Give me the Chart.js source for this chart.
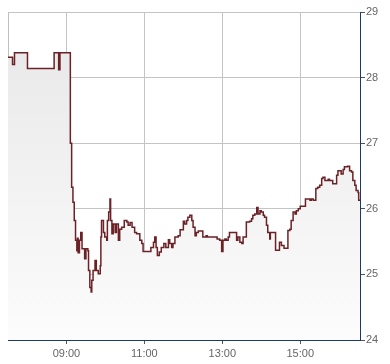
<!DOCTYPE html>
<html>
<head>
<meta charset="utf-8">
<script src="https://cdn.jsdelivr.net/npm/chart.js@4/dist/chart.umd.min.js"></script>
<style>
  html, body { margin: 0; padding: 0; background: #fff; }
  #wrap { width: 390px; height: 364px; }
</style>
</head>
<body>
<div id="wrap"><canvas id="priceChart" width="390" height="364"></canvas></div>
<script>
// intraday trade times and prices
const times = [
  "07:30", "07:37", "07:40", "08:00", "08:41", "08:48", "08:50", "09:06", "09:08", "09:10",
  "09:12", "09:14", "09:16", "09:17", "09:18", "09:20", "09:22", "09:24", "09:28", "09:30",
  "09:33", "09:34", "09:36", "09:38", "09:39", "09:41", "09:44", "09:46", "09:49", "09:52",
  "09:53", "09:54", "09:57", "09:59", "10:02", "10:03", "10:05", "10:07", "10:08", "10:10",
  "10:12", "10:15", "10:17", "10:20", "10:22", "10:25", "10:29", "10:33", "10:35", "10:38",
  "10:41", "10:45", "10:48", "10:53", "10:56", "10:58", "11:10", "11:14", "11:16", "11:18",
  "11:20", "11:23", "11:26", "11:30", "11:33", "11:37", "11:39", "11:42", "11:44", "11:47",
  "11:52", "11:55", "12:00", "12:02", "12:05", "12:07", "12:10", "12:13", "12:15", "12:18",
  "12:20", "12:23", "12:30", "12:35", "12:37", "12:52", "12:56", "12:59", "13:01", "13:04",
  "13:06", "13:09", "13:11", "13:22", "13:24", "13:27", "13:30", "13:32", "13:37", "13:42",
  "13:45", "13:47", "13:50", "13:53", "13:55", "13:58", "14:00", "14:03", "14:05", "14:08",
  "14:10", "14:13", "14:14", "14:22", "14:28", "14:31", "14:35", "14:41", "14:44", "14:46",
  "14:49", "14:52", "14:54", "14:57", "15:00", "15:08", "15:15", "15:17", "15:20", "15:24",
  "15:27", "15:30", "15:33", "15:35", "15:38", "15:43", "15:45", "15:50", "15:56", "15:58",
  "16:03", "16:06", "16:08", "16:13", "16:16", "16:19", "16:21", "16:24", "16:26", "16:29",
  "16:30", "16:32"
];
const prices = [
  28.31, 28.20, 28.38, 28.14, 28.38, 28.12, 28.38, 27.00, 26.33, 26.10,
  25.82, 25.52, 25.36, 25.55, 25.33, 25.52, 25.64, 25.39, 25.24, 25.39,
  25.36, 25.06, 24.80, 24.73, 24.91, 25.06, 25.21, 25.06, 25.01, 25.13,
  25.57, 25.82, 25.64, 25.57, 25.52, 25.82, 25.95, 26.15, 25.82, 25.62,
  25.77, 25.64, 25.77, 25.52, 25.69, 25.72, 25.82, 25.80, 25.75, 25.79,
  25.72, 25.64, 25.62, 25.52, 25.47, 25.35, 25.41, 25.49, 25.57, 25.41,
  25.29, 25.34, 25.41, 25.47, 25.41, 25.53, 25.47, 25.41, 25.47, 25.57,
  25.59, 25.68, 25.81, 25.77, 25.82, 25.87, 25.90, 25.82, 25.72, 25.59,
  25.64, 25.66, 25.57, 25.59, 25.57, 25.54, 25.52, 25.35, 25.52, 25.54,
  25.52, 25.57, 25.64, 25.52, 25.57, 25.49, 25.47, 25.57, 25.80, 25.81,
  25.85, 25.90, 25.92, 26.02, 25.92, 25.97, 25.95, 25.90, 25.87, 25.75,
  25.64, 25.54, 25.64, 25.37, 25.49, 25.44, 25.40, 25.67, 25.69, 25.82,
  25.95, 25.92, 25.97, 26.00, 26.04, 26.15, 26.13, 26.15, 26.13, 26.31,
  26.33, 26.36, 26.46, 26.48, 26.43, 26.45, 26.43, 26.38, 26.51, 26.58,
  26.53, 26.60, 26.64, 26.65, 26.58, 26.56, 26.43, 26.36, 26.28, 26.25,
  26.13, 26.13
];
const timeTicks = ["09:00", "11:00", "13:00", "15:00"];
const priceTicks = [24, 25, 26, 27, 28, 29];

const toMinutes = (t) => {
  var parts = t.split(":");
  return parseInt(parts[0], 10) * 60 + parseInt(parts[1], 10);
};
const toLabel = (m) => {
  var h = Math.floor(m / 60);
  var mm = m % 60;
  return (h < 10 ? "0" : "") + h + ":" + (mm < 10 ? "0" : "") + mm;
};

const points = times.map((t, i) => ({ x: toMinutes(t), y: prices[i] }));

// gray frame on the left edge of the plot
const leftBorder = {
  id: "leftBorder",
  beforeDatasetsDraw(chart) {
    const { ctx, chartArea } = chart;
    ctx.save();
    ctx.strokeStyle = "#c0c0c0";
    ctx.lineWidth = 1;
    ctx.beginPath();
    ctx.moveTo(chartArea.left + 0.5, chartArea.top);
    ctx.lineTo(chartArea.left + 0.5, chartArea.bottom);
    ctx.stroke();
    ctx.restore();
  },
};

const ctx = document.getElementById("priceChart").getContext("2d");
const priceChart = new Chart(ctx, {
  type: "line",
  data: {
    datasets: [
      {
        data: points,
        stepped: true,
        borderColor: "#6b2227",
        borderWidth: 1.5,
        pointRadius: 0,
        fill: "start",
        backgroundColor: (c) => {
          const area = c.chart.chartArea;
          if (!area) return "#eeeeee";
          const g = c.chart.ctx.createLinearGradient(0, area.top, 0, area.bottom);
          g.addColorStop(0, "#e7e7e7");
          g.addColorStop(1, "#fcfcfc");
          return g;
        },
      },
    ],
  },
  options: {
    responsive: false,
    animation: false,
    layout: { padding: { left: 8, top: 12, right: 0, bottom: 0 } },
    plugins: { legend: false, tooltip: { enabled: false } },
    scales: {
      x: {
        type: "linear",
        min: toMinutes("07:30"),
        max: toMinutes("16:32"),
        afterBuildTicks: (scale) => {
          scale.ticks = timeTicks.map((t) => ({ value: toMinutes(t) }));
        },
        afterFit: (scale) => { scale.height = 24; },
        grid: { color: "#c4c4c4", tickColor: "#555555", tickLength: 4 },
        border: { color: "#1b3a6b", width: 1 },
        ticks: {
          callback: (v) => toLabel(v),
          color: "#666666",
          font: { family: "Liberation Sans", size: 11 },
          padding: 3,
          maxRotation: 0,
        },
      },
      y: {
        position: "right",
        min: 24,
        max: 29,
        afterBuildTicks: (scale) => {
          scale.ticks = priceTicks.map((v) => ({ value: v }));
        },
        afterFit: (scale) => { scale.width = 30; },
        grid: { color: "#c4c4c4", tickColor: "#555555", tickLength: 5 },
        border: { color: "#1b3a6b", width: 1 },
        ticks: {
          color: "#666666",
          font: { family: "Liberation Sans", size: 11 },
          padding: 1,
        },
      },
    },
  },
  plugins: [leftBorder],
});
</script>
</body>
</html>
